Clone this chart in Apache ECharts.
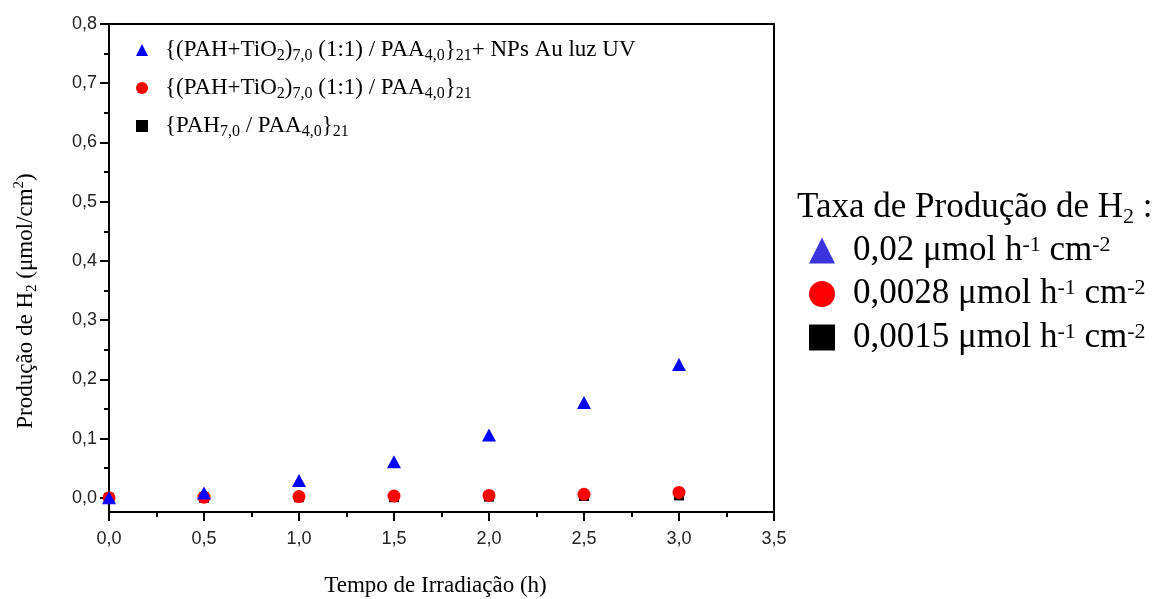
<!DOCTYPE html>
<html>
<head>
<meta charset="utf-8">
<script src="https://cdn.jsdelivr.net/npm/echarts@6/dist/echarts.min.js"></script>
<style>
  html, body { margin: 0; padding: 0; background: #fff; }
  #chart { width: 1162px; height: 599px; }
</style>
</head>
<body>
<div id="chart"></div>
<script>
// tempo de irradiação (h)
var hours = [0, 0.5, 1.0, 1.5, 2.0, 2.5, 3.0];
// produção de H2 (umol/cm2)
var h2AuUV = [0, 0.008, 0.029, 0.061, 0.106, 0.161, 0.225];
var h2TiO2 = [0, 0.001, 0.002, 0.003, 0.004, 0.006, 0.009];
var h2PahPaa = [0, 0, 0.001, 0.001, 0.002, 0.003, 0.004];

var yTicks = [0, 0.1, 0.2, 0.3, 0.4, 0.5, 0.6, 0.7, 0.8];
var yMinorTicks = [0.05, 0.15, 0.25, 0.35, 0.45, 0.55, 0.65, 0.75];

var seriesKeys = ['auUV', 'tio2', 'pahPaa'];
var legendLabels = [
  '{(PAH+TiO{sub|2}){sub|7,0} (1:1) / PAA{sub|4,0}}{sub|21}+ NPs Au luz UV',
  '{(PAH+TiO{sub|2}){sub|7,0} (1:1) / PAA{sub|4,0}}{sub|21}',
  '{PAH{sub|7,0} / PAA{sub|4,0}}{sub|21}'
];
var rateLabels = [
  '0,02 μmol h{sup|-1} cm{sup|-2}',
  '0,0028 μmol h{sup|-1} cm{sup|-2}',
  '0,0015 μmol h{sup|-1} cm{sup|-2}'
];

var serif = '"Liberation Serif", "Times New Roman", serif';
var sans = '"Liberation Sans", Arial, sans-serif';

function comma(v) {
  return v.toFixed(1).replace('.', ',');
}
function pairs(ys) {
  return hours.map(function (x, i) { return [x, ys[i]]; });
}

var chart = echarts.init(document.getElementById('chart'));

var option = {
  animation: false,
  grid: {
    left: 109, top: 24, right: 388, bottom: 87,
    outerBoundsMode: 'none',
    show: true, borderColor: '#000', borderWidth: 2
  },
  xAxis: {
    type: 'value',
    min: 0, max: 3.5, interval: 0.5,
    name: 'Tempo de Irradiação (h)',
    nameLocation: 'middle',
    nameGap: 62,
    nameTextStyle: { fontFamily: serif, fontSize: 23, color: '#000', padding: [0, 12, 0, 0] },
    axisLine: { onZero: false, lineStyle: { color: '#000', width: 2 } },
    axisTick: { show: true, length: 9, lineStyle: { color: '#000', width: 2 } },
    minorTick: { show: true, splitNumber: 2, length: 5, lineStyle: { color: '#000', width: 2 } },
    splitLine: { show: false },
    axisLabel: { fontFamily: sans, fontSize: 18, color: '#222', margin: 18, formatter: comma }
  },
  yAxis: [
    {
      type: 'value',
      min: -0.024, max: 0.8,
      name: 'Produção de H{sub|2} (μmol/cm{sup|2})',
      nameLocation: 'middle',
      nameRotate: 90,
      nameGap: 69,
      nameTextStyle: {
        fontFamily: serif, fontSize: 23, color: '#000', lineHeight: 28,
        padding: [0, 66, 0, 0],
        rich: {
          sub: { fontFamily: serif, fontSize: 15, lineHeight: 28, verticalAlign: 'bottom' },
          sup: { fontFamily: serif, fontSize: 15, lineHeight: 28, verticalAlign: 'top' }
        }
      },
      axisLine: { onZero: false, lineStyle: { color: '#000', width: 2 } },
      axisTick: { show: true, length: 9, customValues: yTicks, lineStyle: { color: '#000', width: 2 } },
      splitLine: { show: false },
      axisLabel: { fontFamily: sans, fontSize: 18, color: '#222', margin: 12, customValues: yTicks, formatter: comma }
    },
    {
      type: 'value',
      min: -0.024, max: 0.8,
      position: 'left',
      axisLine: { show: false, onZero: false },
      axisTick: { show: true, length: 5, customValues: yMinorTicks, lineStyle: { color: '#000', width: 2 } },
      axisLabel: { show: false },
      splitLine: { show: false }
    }
  ],
  legend: [
    {
      orient: 'vertical',
      left: 131, top: 31,
      itemWidth: 12, itemHeight: 12,
      itemGap: 10,
      selectedMode: false,
      data: [
        { name: 'auUV', icon: 'triangle' },
        { name: 'tio2', icon: 'circle' },
        { name: 'pahPaa', icon: 'rect' }
      ],
      formatter: function (name) { return legendLabels[seriesKeys.indexOf(name)]; },
      textStyle: {
        fontFamily: serif, fontSize: 23, color: '#000', lineHeight: 28,
        padding: [0, 0, 0, 12],
        rich: {
          sub: { fontFamily: serif, fontSize: 16, lineHeight: 28, verticalAlign: 'bottom' }
        }
      }
    },
    {
      orient: 'vertical',
      left: 804, top: 228,
      itemWidth: 26, itemHeight: 26,
      itemGap: 8.5,
      selectedMode: false,
      data: [
        { name: 'auUV', icon: 'triangle', itemStyle: { color: '#3b34dd' } },
        { name: 'tio2', icon: 'circle', itemStyle: { color: '#ff0000' } },
        { name: 'pahPaa', icon: 'rect', itemStyle: { color: '#000' } }
      ],
      formatter: function (name) { return rateLabels[seriesKeys.indexOf(name)]; },
      textStyle: {
        fontFamily: serif, fontSize: 35, color: '#000', lineHeight: 33,
        padding: [0, 0, 0, 13],
        rich: {
          sup: { fontFamily: serif, fontSize: 22, lineHeight: 33, verticalAlign: 'top' }
        }
      }
    }
  ],
  graphic: [
    {
      type: 'text',
      left: 797, top: 188,
      style: {
        text: 'Taxa de Produção de H{sub|2} :',
        fontFamily: serif, fontSize: 35, fill: '#000', lineHeight: 40,
        rich: {
          sub: { fontFamily: serif, fontSize: 22, fill: '#000', lineHeight: 40, verticalAlign: 'bottom' }
        }
      }
    }
  ],
  series: [
    {
      name: 'pahPaa', type: 'scatter', symbol: 'rect', symbolSize: 10,
      itemStyle: { color: '#000', opacity: 1 },
      data: pairs(h2PahPaa)
    },
    {
      name: 'tio2', type: 'scatter', symbol: 'circle', symbolSize: 13,
      itemStyle: { color: '#ff0000', opacity: 1 },
      data: pairs(h2TiO2)
    },
    {
      name: 'auUV', type: 'scatter', symbol: 'triangle', symbolSize: [14, 13],
      itemStyle: { color: '#0000ff', opacity: 1 },
      data: pairs(h2AuUV)
    }
  ]
};

chart.setOption(option);
</script>
</body>
</html>
